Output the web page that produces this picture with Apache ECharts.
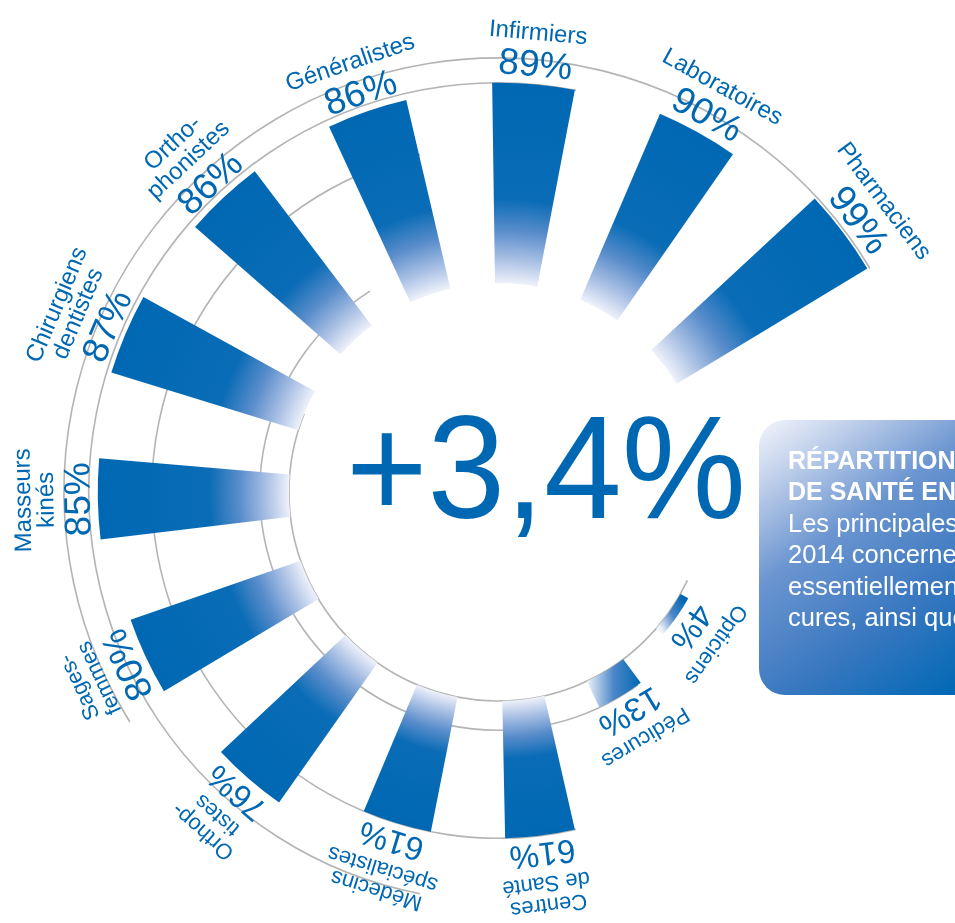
<!DOCTYPE html>
<html>
<head>
<meta charset="utf-8">
<script src="https://cdn.jsdelivr.net/npm/echarts@6/dist/echarts.min.js"></script>
<style>
html,body{margin:0;padding:0;background:#ffffff;overflow:hidden;}
#chart{width:955px;height:923px;}
</style>
</head>
<body>
<div id="chart"></div>
<script>
// ---- data ----
var categories = ['Pharmaciens','Laboratoires','Infirmiers','Généralistes','Orthophonistes','Chirurgiens dentistes','Masseurs kinés','Sages-femmes','Orthoptistes','Médecins spécialistes','Centres de Santé','Pédicures','Opticiens'];
var labelLines = ['Pharmaciens','Laboratoires','Infirmiers','Généralistes','Ortho-\nphonistes','Chirurgiens\ndentistes','Masseurs\nkinés','Sages-\nfemmes','Orthop-\ntistes','Médecins\nspécialistes','Centres\nde Santé','Pédicures','Opticiens'];
var values = [99, 90, 89, 86, 86, 87, 85, 80, 76, 61, 61, 13, 4];
var headline = '+3,4%';
var boxTitle = ['RÉPARTITION', 'DE SANTÉ EN'];
var boxText = ['Les principales', '2014 concernent', 'essentiellement', 'cures, ainsi que'];

// ---- layout / style ----
var CX = 498, CY = 492, R0 = 209, R1 = 434;
var START = 25, SLOTS = 15;
var BLUE = '#0068b3';
var FONT = '"Liberation Sans", Arial, Helvetica, sans-serif';

var angleCats = categories.slice();
while (angleCats.length < SLOTS) angleCats.push('');

function barColor(i, v) {
  var rOut = R0 + (R1 - R0) * v / 100;
  if (v >= 20) {
    var L = rOut - R0;
    return {
      type: 'radial', x: CX, y: CY, r: rOut, global: true,
      colorStops: [
        {offset: 0, color: '#eef1fa'},
        {offset: R0 / rOut, color: '#eef1fa'},
        {offset: (R0 + 0.12 * L) / rOut, color: '#a9c0e4'},
        {offset: (R0 + 0.26 * L) / rOut, color: '#5a8dcb'},
        {offset: (R0 + 0.42 * L) / rOut, color: '#0a6cb6'},
        {offset: 1, color: BLUE}
      ]
    };
  }
  var th = (START + (i + 0.5) * 360 / SLOTS) * Math.PI / 180;
  // light direction: back along the tangent plus a bit inward
  var lx = Math.sin(th) - 0.6 * Math.cos(th);
  var ly = Math.cos(th) + 0.6 * Math.sin(th);
  var n = Math.sqrt(lx * lx + ly * ly); lx /= n; ly /= n;
  return {
    type: 'linear', x: 0.5 + 0.5 * lx, y: 0.5 + 0.5 * ly, x2: 0.5 - 0.5 * lx, y2: 0.5 - 0.5 * ly,
    colorStops: [
      {offset: 0, color: '#eef2fa'},
      {offset: 0.5, color: '#4a86c8'},
      {offset: 1, color: BLUE}
    ]
  };
}

var chart = echarts.init(document.getElementById('chart'), null, {renderer: 'canvas'});

var option = {
  backgroundColor: '#ffffff',
  animation: false,
  polar: [
    {center: [CX, CY], radius: [R0, R1]},
    {center: [CX, CY], radius: [R0, R1]}
  ],
  angleAxis: [
    {polarIndex: 0, type: 'category', data: angleCats, startAngle: START, clockwise: false,
     show: false, axisLine: {show: false}, axisTick: {show: false}, axisLabel: {show: false}, splitLine: {show: false}},
    {polarIndex: 1, type: 'value', min: 0, max: 360, startAngle: 0, clockwise: false,
     show: false, axisLine: {show: false}, axisTick: {show: false}, axisLabel: {show: false}, splitLine: {show: false}}
  ],
  radiusAxis: [
    {polarIndex: 0, type: 'value', min: 0, max: 100, show: false,
     axisLine: {show: false}, axisTick: {show: false}, axisLabel: {show: false}, splitLine: {show: false}},
    {polarIndex: 1, type: 'value', min: 0, max: 100, show: false,
     axisLine: {show: false}, axisTick: {show: false}, axisLabel: {show: false}, splitLine: {show: false}}
  ],
  graphic: [
    {
      type: 'text', x: 546, y: 477, scaleX: 0.95, z: 10,
      style: {text: headline, fontSize: 147, fontFamily: FONT, fill: BLUE, align: 'center', verticalAlign: 'middle'}
    },
    {
      type: 'rect', z: 5,
      shape: {x: 759, y: 420, width: 290, height: 275, r: 26},
      style: {
        fill: {
          type: 'linear', x: 759, y: 420, x2: 955, y2: 695, global: true,
          colorStops: [
            {offset: 0, color: '#f4f6fb'},
            {offset: 0.15, color: '#c4d3ec'},
            {offset: 0.4, color: '#6b95d0'},
            {offset: 0.7, color: '#3a78c0'},
            {offset: 1, color: '#0068b5'}
          ]
        }
      }
    },
    {
      type: 'text', x: 788, y: 446, z: 6,
      style: {
        text: boxTitle.map(function (t) { return '{b|' + t + '}'; }).concat(
              boxText.map(function (t) { return '{n|' + t + '}'; })).join('\n'),
        fill: '#ffffff', align: 'left', verticalAlign: 'top', fontFamily: FONT,
        rich: {
          b: {fontSize: 25, fontWeight: 'bold', lineHeight: 31.5, fill: '#ffffff', fontFamily: FONT},
          n: {fontSize: 25.5, lineHeight: 31.5, fill: '#ffffff', fontFamily: FONT}
        }
      }
    }
  ],
  series: [
    {
      type: 'custom', coordinateSystem: 'polar', polarIndex: 1, silent: true, z: 1,
      data: [[100, 31, 212], [89, 79, 259], [61, 103, 283], [13, 122.5, 306], [0, 158, 335]],
      renderItem: function (params, api) {
        var cs = params.coordSys;
        var p = api.coord([api.value(0), 0]);
        var r = Math.sqrt((p[0] - cs.cx) * (p[0] - cs.cx) + (p[1] - cs.cy) * (p[1] - cs.cy));
        var a0 = api.value(1) * Math.PI / 180, a1 = api.value(2) * Math.PI / 180;
        return {
          type: 'arc',
          shape: {cx: cs.cx, cy: cs.cy, r: r, startAngle: -a0, endAngle: -a1, clockwise: false},
          style: {stroke: '#b4b4b4', lineWidth: 1.6, fill: null}
        };
      }
    },
    {
      type: 'bar', coordinateSystem: 'polar', polarIndex: 0, barWidth: '48.5%', z: 2,
      data: values.map(function (v, i) { return {value: v, itemStyle: {color: barColor(i, v)}}; })
    },
    {
      type: 'custom', coordinateSystem: 'polar', polarIndex: 0, silent: true, z: 3,
      data: values.map(function (v, i) { return [v, i]; }),
      renderItem: function (params, api) {
        var cs = params.coordSys;
        var i = params.dataIndex;
        var v = api.value(0);
        var p = api.coord([v, api.value(1)]);
        var dx = p[0] - cs.cx, dy = p[1] - cs.cy;
        var r = Math.sqrt(dx * dx + dy * dy);
        var ux = dx / r, uy = dy / r;
        var theta = Math.atan2(-dy, dx);
        var rot = theta - Math.PI / 2;
        var ps = i < 8 ? 37 : 33;
        var ns = i < 7 ? 24 : 22;
        var lh = i < 7 ? 23 : 22;
        var lines = labelLines[i].split('\n').length;
        var pr = r + 5 + 0.358 * ps;
        var nr = r + 5 + 0.716 * ps + 11 + 0.358 * ns + (lines - 1) * lh / 2;
        return {
          type: 'group',
          children: [
            {
              type: 'text', x: cs.cx + ux * pr, y: cs.cy + uy * pr, rotation: rot,
              style: {text: v + '%', fontSize: ps, fontFamily: FONT, fill: BLUE, align: 'center', verticalAlign: 'middle'}
            },
            {
              type: 'text', x: cs.cx + ux * nr, y: cs.cy + uy * nr, rotation: rot,
              style: {text: labelLines[i], fontSize: ns, lineHeight: lh, fontFamily: FONT, fill: BLUE, align: 'center', verticalAlign: 'middle'}
            }
          ]
        };
      }
    }
  ]
};
chart.setOption(option);
</script>
</body>
</html>
